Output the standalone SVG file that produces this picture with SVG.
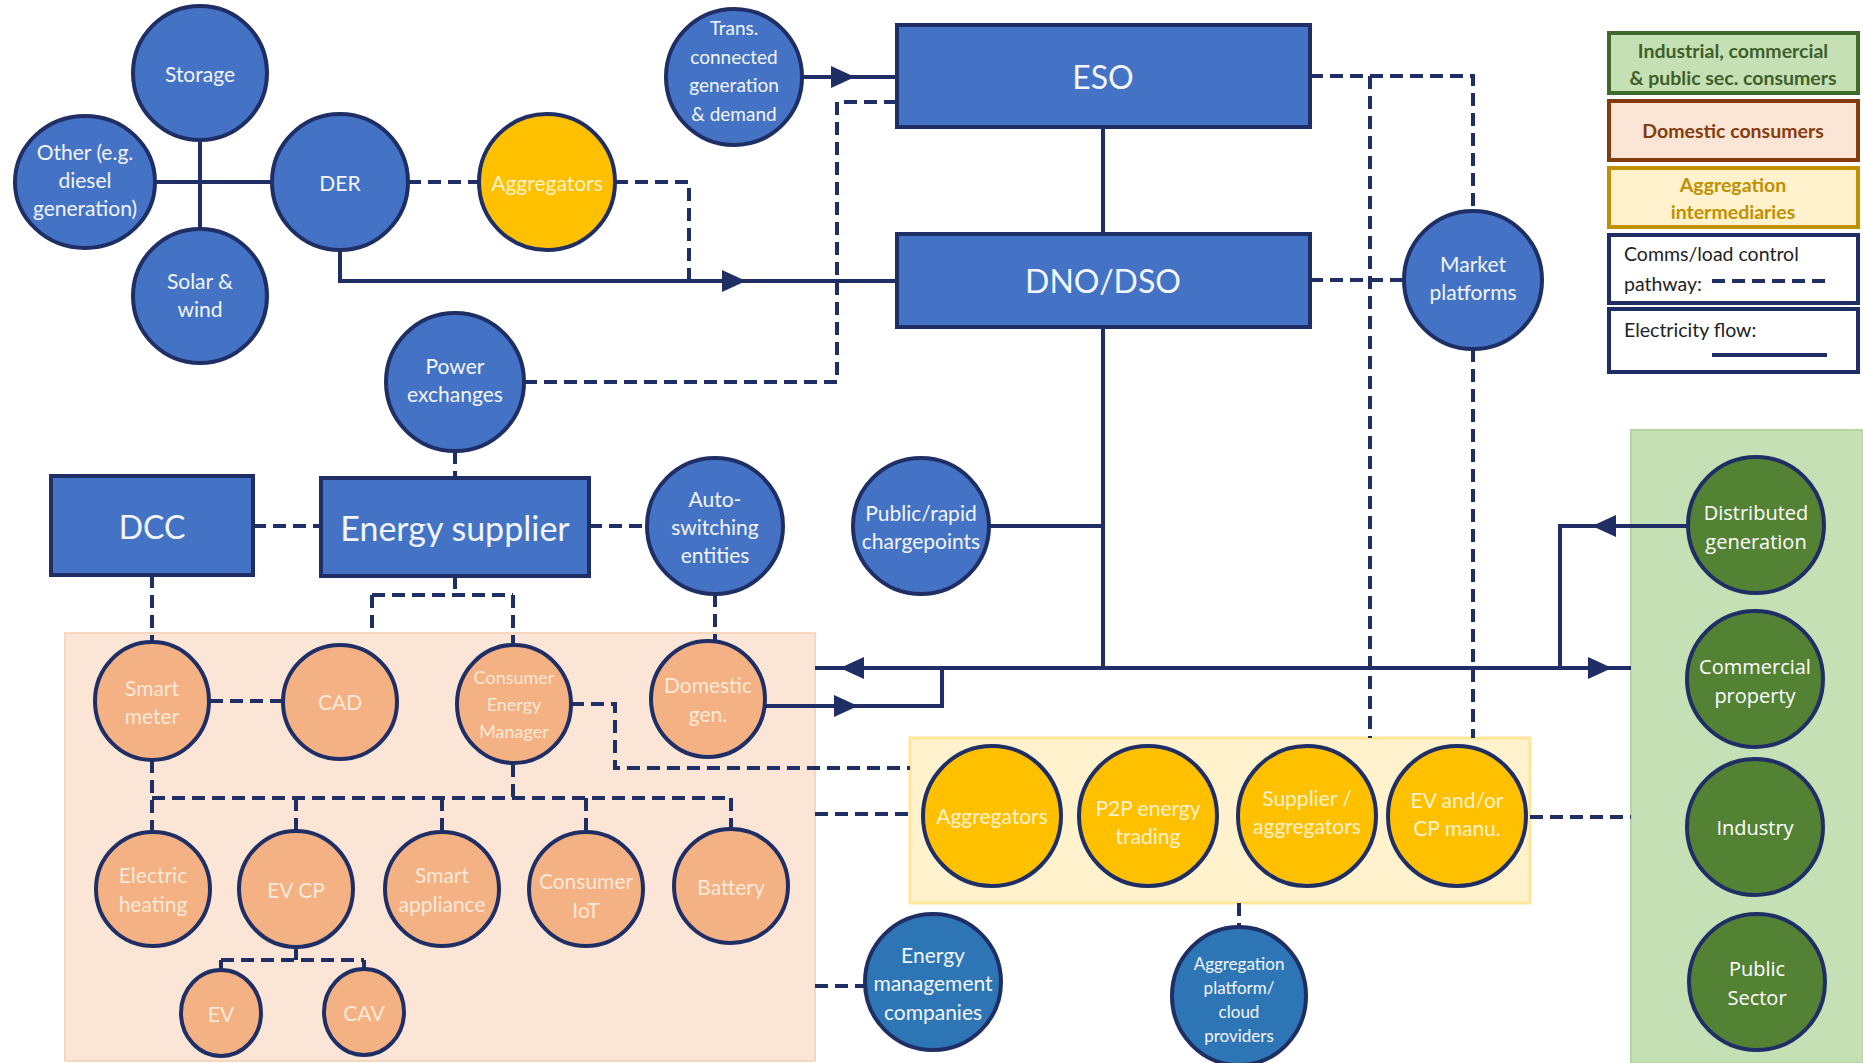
<svg xmlns="http://www.w3.org/2000/svg" width="1863" height="1063" viewBox="0 0 1863 1063">
<defs>
<style>
.blue{fill:#4472c4;stroke:#1f2f66;stroke-width:4}
.blue2{fill:#2e75b6;stroke:#1f2f66;stroke-width:4}
.orange{fill:#f4b183;stroke:#1f2f66;stroke-width:4}
.yellow{fill:#ffc000;stroke:#1f2f66;stroke-width:4}
.green{fill:#548235;stroke:#1f2f66;stroke-width:4}
text{font-family:Lato,"Open Sans","Liberation Sans",sans-serif;text-anchor:middle;dominant-baseline:central}
.tw{fill:#f2f5fc;font-size:21px}
.tws{fill:#f2f5fc;font-size:19px}
.to{fill:#fde9d9;font-size:21px}
.tos{fill:#fde9d9;font-size:18px}
.ty{fill:#fff2cc;font-size:21px}
.tg{fill:#ffffff;font-size:20px;font-family:"Open Sans",Lato,sans-serif}
.tbig{fill:#f2f5fc;font-size:32px}
.tsup{fill:#f2f5fc;font-size:34px}
.solid{fill:none;stroke:#1f2f66;stroke-width:4}
.dash{fill:none;stroke:#1f2f66;stroke-width:4;stroke-dasharray:13 7}
.leg{font-size:19.5px;font-weight:bold}
.legn{font-size:19.5px;fill:#222;text-anchor:start;dominant-baseline:auto}
</style>
<marker id="arr" markerUnits="userSpaceOnUse" markerWidth="24" markerHeight="22" refX="24" refY="11" orient="auto">
<path d="M0,0 L24,11 L0,22 z" fill="#1f2f66"/>
</marker>
</defs>
<rect width="1863" height="1063" fill="#ffffff"/>

<!-- group backgrounds -->
<g id="domestic-area"><rect x="65" y="633" width="750" height="428" fill="#fbe5d6" stroke="#f8d5bd" stroke-width="2"/></g>
<g id="aggregation-area"><rect x="910" y="738" width="620" height="165" fill="#fff2cc" stroke="#ffe699" stroke-width="3"/></g>
<g id="industrial-area"><rect x="1631" y="430" width="232" height="633" fill="#c5e0b4" stroke="#b4d59f" stroke-width="2"/></g>

<!-- connectors -->
<g id="connectors">
<path class="solid" d="M200,140 V230 M155,182 H272"/>
<path class="solid" d="M340,250 V281 H746" marker-end="url(#arr)"/>
<path class="solid" d="M740,281 H897"/>
<path class="solid" d="M802,77 H855" marker-end="url(#arr)"/>
<path class="solid" d="M850,77 H897"/>
<path class="solid" d="M1103,127 V234"/>
<path class="solid" d="M1103,327 V668"/>
<path class="solid" d="M989,526 H1103"/>
<path class="solid" d="M1631,668 H1100"/>
<path class="solid" d="M1100,668 H840" marker-end="url(#arr)"/>
<path class="solid" d="M845,668 H815"/>
<path class="solid" d="M1560,668 H1612" marker-end="url(#arr)"/>
<path class="solid" d="M1688,526 H1592" marker-end="url(#arr)"/>
<path class="solid" d="M1597,526 H1560 V668"/>
<path class="solid" d="M766,706 H858" marker-end="url(#arr)"/>
<path class="solid" d="M853,706 H942 V668"/>
<path class="dash" d="M408,182 H479"/>
<path class="dash" d="M615,182 H689 V281"/>
<path class="dash" d="M524,382 H837 V102 H897"/>
<path class="dash" d="M455,451 V477"/>
<path class="dash" d="M253,526 H321"/>
<path class="dash" d="M589,526 H647"/>
<path class="dash" d="M455,576 V595 M372,595 H513 M372,595 V633 M513,595 V645"/>
<path class="dash" d="M152,575 V641"/>
<path class="dash" d="M715,594 V642"/>
<path class="dash" d="M210,701 H283"/>
<path class="dash" d="M571,704 H615 V768 H910"/>
<path class="dash" d="M152,760 V835 M152,798 H731 M513,764 V798 M296,798 V832 M442,798 V832 M586,798 V832 M731,798 V829"/>
<path class="dash" d="M296,947 V960 M221,960 H364 M221,960 V970 M364,960 V970"/>
<path class="dash" d="M815,814 H910"/>
<path class="dash" d="M815,986 H865"/>
<path class="dash" d="M1310,76 H1473 V212"/>
<path class="dash" d="M1370,76 V738"/>
<path class="dash" d="M1310,280 H1404"/>
<path class="dash" d="M1473,349 V738"/>
<path class="dash" d="M1239,903 V928"/>
<path class="dash" d="M1530,817 H1631"/>
</g>

<g id="storage"><circle class="blue" cx="200" cy="73" r="67"/><text class="tw" x="200" y="73">Storage</text></g>
<g id="other"><ellipse class="blue" cx="85" cy="182" rx="70" ry="66"/><text class="tw" x="85" y="151">Other (e.g.</text><text class="tw" x="85" y="179">diesel</text><text class="tw" x="85" y="207">generation)</text></g>
<g id="der"><circle class="blue" cx="340" cy="182" r="68"/><text class="tw" x="340" y="182">DER</text></g>
<g id="solar"><circle class="blue" cx="200" cy="296" r="67"/><text class="tw" x="200" y="280">Solar &amp;</text><text class="tw" x="200" y="308">wind</text></g>
<g id="aggregators-top"><circle class="yellow" cx="547" cy="182" r="68"/><text class="ty" x="547" y="182">Aggregators</text></g>
<g id="trans"><circle class="blue" cx="734" cy="77" r="68"/><text class="tws" x="734" y="27">Trans.</text><text class="tws" x="734" y="56">connected</text><text class="tws" x="734" y="84">generation</text><text class="tws" x="734" y="113">&amp; demand</text></g>
<g id="power-exchanges"><circle class="blue" cx="455" cy="382" r="69"/><text class="tw" x="455" y="365">Power</text><text class="tw" x="455" y="393">exchanges</text></g>

<g id="eso"><rect class="blue" x="897" y="25" width="413" height="102"/><text class="tbig" x="1103" y="76">ESO</text></g>
<g id="dno"><rect class="blue" x="897" y="234" width="413" height="93"/><text class="tbig" x="1103" y="280">DNO/DSO</text></g>
<g id="market-platforms"><circle class="blue" cx="1473" cy="280" r="69"/><text class="tw" x="1473" y="263">Market</text><text class="tw" x="1473" y="291">platforms</text></g>

<g id="dcc"><rect class="blue" x="51" y="476" width="202" height="99"/><text class="tbig" x="152" y="526">DCC</text></g>
<g id="energy-supplier"><rect class="blue" x="321" y="478" width="268" height="98"/><text class="tsup" x="455" y="527">Energy supplier</text></g>
<g id="auto-switching"><circle class="blue" cx="715" cy="526" r="68"/><text class="tw" x="715" y="498">Auto-</text><text class="tw" x="715" y="526">switching</text><text class="tw" x="715" y="554">entities</text></g>
<g id="public-chargepoints"><circle class="blue" cx="921" cy="526" r="68"/><text class="tw" x="921" y="512">Public/rapid</text><text class="tw" x="921" y="540">chargepoints</text></g>

<g id="smart-meter"><ellipse class="orange" cx="152" cy="701" rx="57" ry="59"/><text class="to" x="152" y="687">Smart</text><text class="to" x="152" y="715">meter</text></g>
<g id="cad"><ellipse class="orange" cx="340" cy="702" rx="57" ry="57"/><text class="to" x="340" y="701">CAD</text></g>
<g id="cem"><ellipse class="orange" cx="514" cy="704" rx="57" ry="59"/><text class="tos" x="514" y="677">Consumer</text><text class="tos" x="514" y="704">Energy</text><text class="tos" x="514" y="731">Manager</text></g>
<g id="domestic-gen"><ellipse class="orange" cx="708" cy="699" rx="57" ry="58"/><text class="to" x="708" y="684">Domestic</text><text class="to" x="708" y="713">gen.</text></g>
<g id="electric-heating"><ellipse class="orange" cx="153" cy="889" rx="57" ry="57"/><text class="to" x="153" y="874">Electric</text><text class="to" x="153" y="903">heating</text></g>
<g id="ev-cp"><ellipse class="orange" cx="296" cy="889" rx="57" ry="58"/><text class="to" x="296" y="889">EV CP</text></g>
<g id="smart-appliance"><ellipse class="orange" cx="442" cy="889" rx="57" ry="57"/><text class="to" x="442" y="874">Smart</text><text class="to" x="442" y="903">appliance</text></g>
<g id="consumer-iot"><ellipse class="orange" cx="586" cy="889" rx="57" ry="57"/><text class="to" x="586" y="880">Consumer</text><text class="to" x="586" y="909">IoT</text></g>
<g id="battery"><ellipse class="orange" cx="731" cy="886" rx="57" ry="57"/><text class="to" x="731" y="886">Battery</text></g>
<g id="ev"><ellipse class="orange" cx="221" cy="1013" rx="40" ry="43"/><text class="to" x="221" y="1013">EV</text></g>
<g id="cav"><ellipse class="orange" cx="364" cy="1012" rx="40" ry="43"/><text class="to" x="364" y="1012">CAV</text></g>

<g id="aggregators"><ellipse class="yellow" cx="992" cy="816" rx="69" ry="70"/><text class="ty" x="992" y="815">Aggregators</text></g>
<g id="p2p"><ellipse class="yellow" cx="1148" cy="816" rx="69" ry="70"/><text class="ty" x="1148" y="807">P2P energy</text><text class="ty" x="1148" y="835">trading</text></g>
<g id="supplier-aggregators"><ellipse class="yellow" cx="1307" cy="816" rx="69" ry="70"/><text class="ty" x="1307" y="797">Supplier /</text><text class="ty" x="1307" y="825">aggregators</text></g>
<g id="ev-cp-manu"><ellipse class="yellow" cx="1457" cy="816" rx="69" ry="70"/><text class="ty" x="1457" y="799">EV and/or</text><text class="ty" x="1457" y="827">CP manu.</text></g>
<g id="energy-management"><circle class="blue2" cx="933" cy="982" r="68"/><text class="tw" x="933" y="954">Energy</text><text class="tw" x="933" y="982">management</text><text class="tw" x="933" y="1011">companies</text></g>
<g id="aggregation-platform"><ellipse class="blue2" cx="1239" cy="996" rx="67" ry="69"/><text x="1239" y="963" style="fill:#f2f5fc;font-size:17px">Aggregation</text><text x="1239" y="987" style="fill:#f2f5fc;font-size:17px">platform/</text><text x="1239" y="1011" style="fill:#f2f5fc;font-size:17px">cloud</text><text x="1239" y="1035" style="fill:#f2f5fc;font-size:17px">providers</text></g>

<g id="distributed-generation"><circle class="green" cx="1756" cy="525" r="68"/><text class="tg" x="1756" y="512">Distributed</text><text class="tg" x="1756" y="541">generation</text></g>
<g id="commercial-property"><circle class="green" cx="1755" cy="679" r="68"/><text class="tg" x="1755" y="666">Commercial</text><text class="tg" x="1755" y="695">property</text></g>
<g id="industry"><circle class="green" cx="1755" cy="827" r="68"/><text class="tg" x="1755" y="827">Industry</text></g>
<g id="public-sector"><circle class="green" cx="1757" cy="982" r="68"/><text class="tg" x="1757" y="968">Public</text><text class="tg" x="1757" y="997">Sector</text></g>

<g id="legend">
<rect x="1609" y="33" width="249" height="60" fill="#c5e0b4" stroke="#3e6b2a" stroke-width="4"/>
<text class="leg" x="1733" y="50" fill="#3e5f2a">Industrial, commercial</text>
<text class="leg" x="1733" y="77" fill="#3e5f2a">&amp; public sec. consumers</text>
<rect x="1609" y="101" width="249" height="59" fill="#fbe5d6" stroke="#843c0c" stroke-width="4"/>
<text class="leg" x="1733" y="130" fill="#843c0c">Domestic consumers</text>
<rect x="1609" y="168" width="249" height="59" fill="#fff2cc" stroke="#bf9000" stroke-width="4"/>
<text class="leg" x="1733" y="184" fill="#bf9000">Aggregation</text>
<text class="leg" x="1733" y="211" fill="#bf9000">intermediaries</text>
<rect x="1609" y="235" width="249" height="68" fill="#ffffff" stroke="#1f2f66" stroke-width="4"/>
<text class="legn" x="1624" y="261">Comms/load control</text>
<text class="legn" x="1624" y="291">pathway:</text>
<path class="dash" d="M1712,281 H1828"/>
<rect x="1609" y="309" width="249" height="63" fill="#ffffff" stroke="#1f2f66" stroke-width="4"/>
<text class="legn" x="1624" y="337">Electricity flow:</text>
<path class="solid" d="M1712,355 H1827"/>
</g>
</svg>
